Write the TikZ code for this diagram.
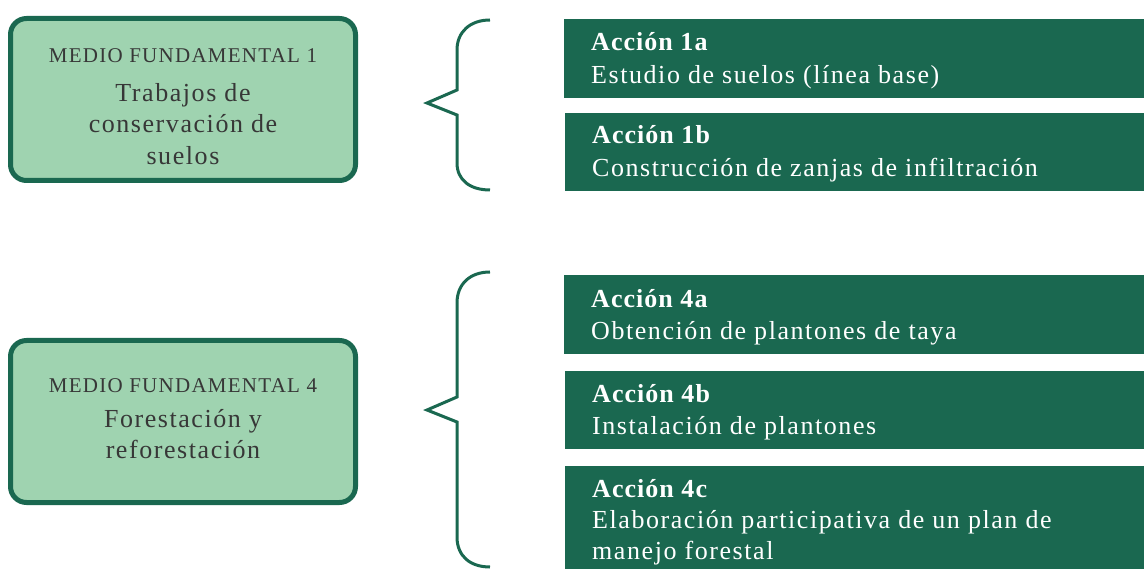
\documentclass[tikz,border=0pt]{standalone}
\usepackage{fontspec}
\setmainfont[LetterSpace=6,BoldFeatures={LetterSpace=4}]{Liberation Serif}
\definecolor{dkgreen}{RGB}{26,104,80}
\definecolor{ltgreen}{RGB}{159,211,176}
\definecolor{txtgray}{RGB}{55,55,55}
\tikzset{
  medio/.style={draw=dkgreen, line width=5pt, fill=ltgreen, rounded corners=16pt,
    minimum width=345pt, inner sep=0pt, text=txtgray},
  accion/.style={fill=dkgreen, anchor=north west, minimum width=580pt,
    inner sep=0pt, text=white},
  brace/.style={draw=dkgreen, line width=3pt, line join=miter}
}
\newcommand{\medtext}[3]{\parbox[t]{345pt}{\centering
  {\fontsize{21}{24}\selectfont #1\par}\vspace{#2}%
  {\fontsize{26}{31.5}\selectfont #3\par}}}
\newcommand{\acctext}[3][32]{\hspace*{27pt}\parbox[t]{553pt}{\raggedright
  \fontsize{26}{#1}\selectfont\textbf{#2}\\#3}}
\begin{document}
\begin{tikzpicture}[x=1pt,y=-1pt]
\useasboundingbox (0,0) rectangle (1144,569);
% left boxes
\node[medio, text height=44.5pt, text depth=117.5pt] (m1) at (183,99.5)
  {\medtext{MEDIO FUNDAMENTAL 1}{7pt}{Trabajos de\\conservación de\\suelos}};
\node[medio, text height=52.5pt, text depth=109.5pt] (m4) at (183,421.5)
  {\medtext{MEDIO FUNDAMENTAL 4}{3pt}{Forestación y\\reforestación}};
% action boxes
\node[accion, text height=31pt, text depth=48pt] (a1a) at (564,19)
  {\acctext[33]{Acción 1a}{Estudio de suelos (línea base)}};
\node[accion, text height=30pt, text depth=48pt] (a1b) at (565,113)
  {\acctext[33]{Acción 1b}{Construcción de zanjas de infiltración}};
\node[accion, text height=32pt, text depth=47pt] (a4a) at (564,275)
  {\acctext[32]{Acción 4a}{Obtención de plantones de taya}};
\node[accion, text height=31pt, text depth=47pt] (a4b) at (565,371)
  {\acctext[32]{Acción 4b}{Instalación de plantones}};
\node[accion, text height=31pt, text depth=83pt] (a4c) at (565,466)
  {\acctext[31]{Acción 4c}{Elaboración participativa de un plan de\\manejo forestal}};
% braces
\coordinate (b1top) at (490,20);
\coordinate (b1tip) at (427,103);
\coordinate (b1bot) at (490,190);
\draw[brace] (b1top) .. controls (470,20) and (457,32) .. (457,50) -- (457,90) -- (b1tip) -- (457,115) -- (457,163) .. controls (457,180) and (470,190) .. (b1bot);
\coordinate (b4top) at (490,272);
\coordinate (b4tip) at (427,410);
\coordinate (b4bot) at (490,567);
\draw[brace] (b4top) .. controls (470,272) and (457,284) .. (457,303) -- (457,397) -- (b4tip) -- (457,422) -- (457,537) .. controls (457,556) and (470,567) .. (b4bot);
\end{tikzpicture}
\end{document}
